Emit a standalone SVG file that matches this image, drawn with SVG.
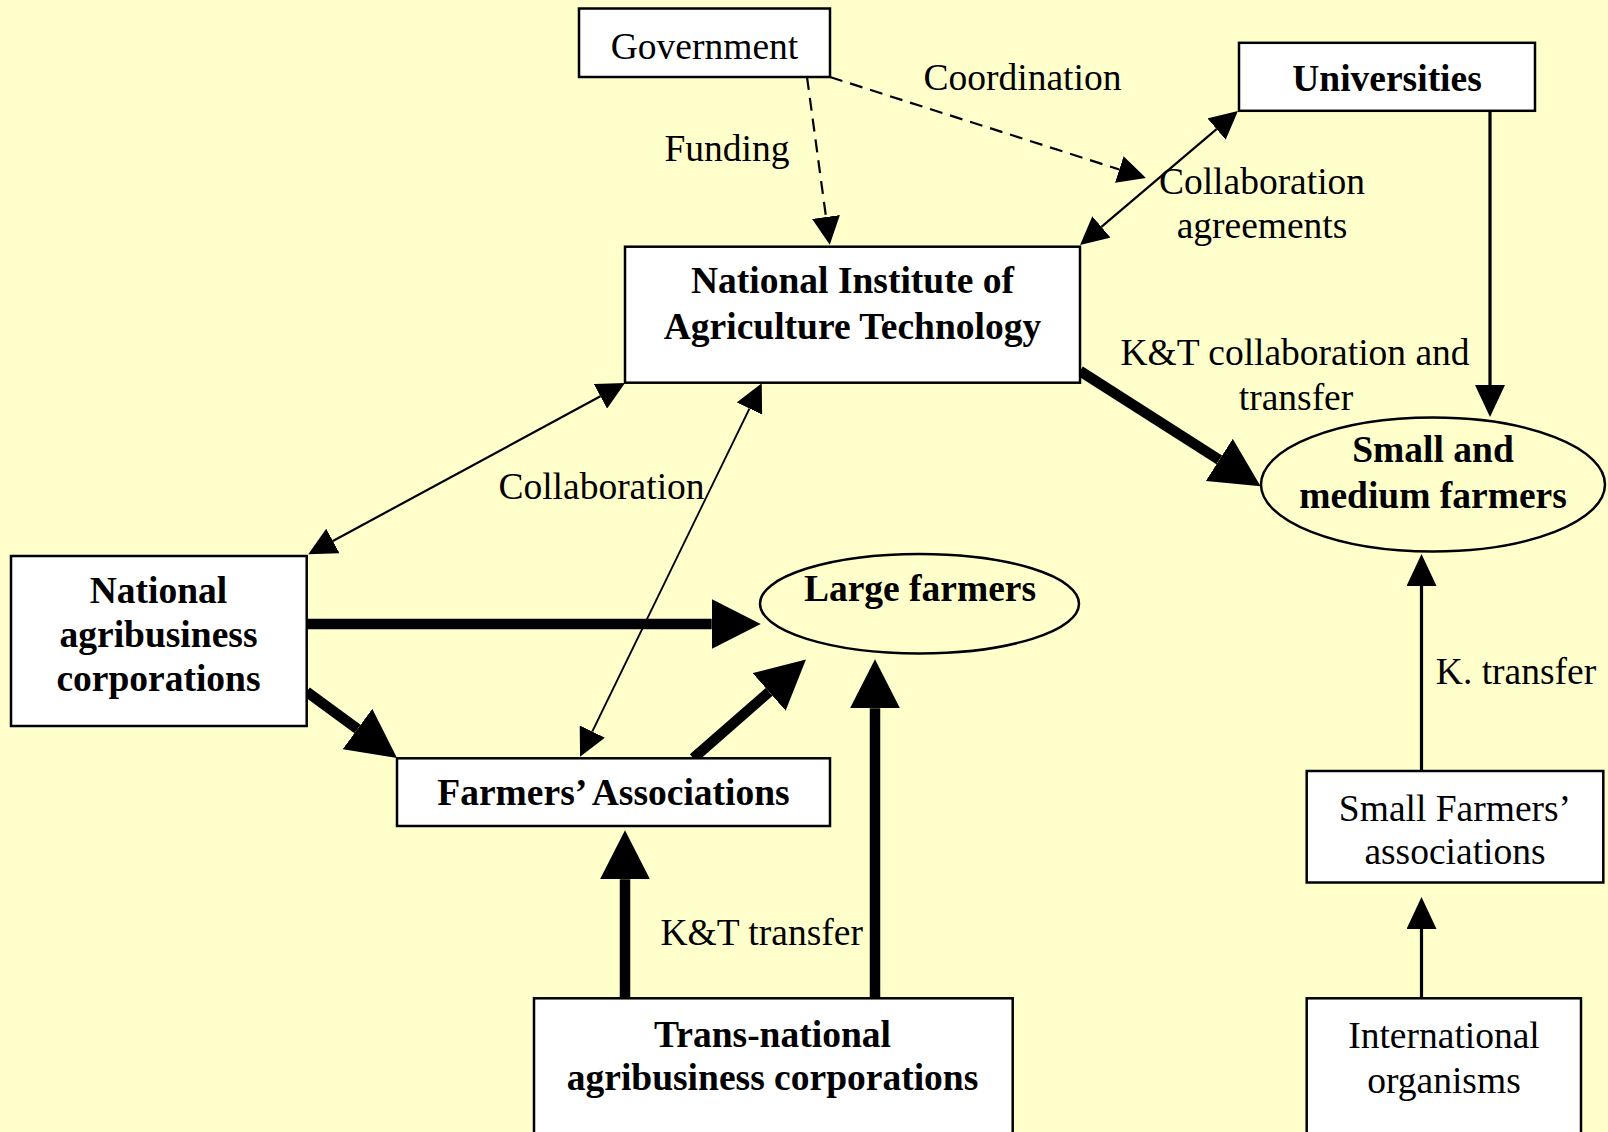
<svg xmlns="http://www.w3.org/2000/svg" width="1608" height="1132" viewBox="0 0 1608 1132">
<style>
.box{fill:#ffffff;stroke:#000;stroke-width:2.5}
.ell{fill:none;stroke:#000;stroke-width:2.5}
text{font-family:"Liberation Serif","Times New Roman",serif;font-size:37.5px;fill:#000;text-anchor:middle}
.b{font-weight:bold}
.thin{stroke:#000;stroke-width:2.2;fill:none}
.dash{stroke:#000;stroke-width:2.2;fill:none;stroke-dasharray:13 8}
.med{stroke:#000;stroke-width:3.2;fill:none}
.thick{stroke:#000;stroke-width:10.5;fill:none}
</style>
<defs>
<marker id="mThin" markerUnits="userSpaceOnUse" viewBox="0 0 28 28" markerWidth="28" markerHeight="28" refX="0" refY="14" orient="auto-start-reverse"><path d="M0,0 L28,14 L0,28 z" fill="#000"/></marker>
<marker id="mMed" markerUnits="userSpaceOnUse" viewBox="0 0 32 30" markerWidth="32" markerHeight="30" refX="0" refY="15" orient="auto-start-reverse"><path d="M0,0 L32,15 L0,30 z" fill="#000"/></marker>
<marker id="mBig" markerUnits="userSpaceOnUse" viewBox="0 0 49 50" markerWidth="49" markerHeight="50" refX="0" refY="25" orient="auto-start-reverse"><path d="M0,0 L49,25 L0,50 z" fill="#000"/></marker>
</defs>
<rect x="0" y="0" width="1608" height="1132" fill="#ffffcc"/>

<g id="connectors">
<line id="e-funding" class="dash" x1="807" y1="77" x2="826" y2="217" marker-end="url(#mThin)"/>
<line id="e-coordination" class="dash" x1="830" y1="77" x2="1119.3" y2="169.5" marker-end="url(#mThin)"/>
<line id="e-univ-niat" class="thin" x1="1216.6" y1="129.1" x2="1101.4" y2="226.9" marker-start="url(#mThin)" marker-end="url(#mThin)"/>
<line id="e-niat-nat" class="thin" x1="600.4" y1="396.3" x2="332.9" y2="541" marker-start="url(#mThin)" marker-end="url(#mThin)"/>
<line id="e-niat-fa" class="thin" style="stroke-width:1.8" x1="749.5" y1="408.5" x2="592.3" y2="731.5" marker-start="url(#mThin)" marker-end="url(#mThin)"/>
<line id="e-niat-smf" class="thick" x1="1080" y1="371" x2="1219.3" y2="459.9" marker-end="url(#mBig)"/>
<line id="e-nat-large" class="thick" x1="307" y1="624" x2="711.7" y2="624" marker-end="url(#mBig)"/>
<line id="e-nat-fa" class="thick" x1="306.7" y1="691.7" x2="357.5" y2="729" marker-end="url(#mBig)"/>
<line id="e-fa-large" class="thick" x1="693.3" y1="758.3" x2="769.1" y2="691.9" marker-end="url(#mBig)"/>
<line id="e-tnc-fa" class="thick" x1="625" y1="998" x2="625" y2="879.3" marker-end="url(#mBig)"/>
<line id="e-tnc-large" class="thick" x1="875" y1="998" x2="875" y2="708.3" marker-end="url(#mBig)"/>
<line id="e-univ-smf" class="med" x1="1490" y1="110.8" x2="1490" y2="385" marker-end="url(#mMed)"/>
<line id="e-sfa-smf" class="med" x1="1421.5" y1="771" x2="1421.5" y2="586" marker-end="url(#mMed)"/>
<line id="e-intl-sfa" class="med" x1="1421.5" y1="998" x2="1421.5" y2="929" marker-end="url(#mMed)"/>
<text x="1022.5" y="90">Coordination</text>
<text x="727" y="161">Funding</text>
<text x="1262" y="193.5">Collaboration</text>
<text x="1262" y="237.5">agreements</text>
<text x="1295" y="365">K&amp;T collaboration and</text>
<text x="1296" y="410">transfer</text>
<text x="601.5" y="498.5">Collaboration</text>
<text x="761.7" y="945">K&amp;T transfer</text>
<text x="1516" y="684">K. transfer</text>
</g>

<g id="government">
<rect class="box" x="579" y="8.5" width="251" height="68.5"/>
<text x="704.5" y="58.5">Government</text>
</g>
<g id="universities">
<rect class="box" x="1239" y="42.8" width="296" height="68"/>
<text class="b" x="1387" y="90.6">Universities</text>
</g>
<g id="niat">
<rect class="box" x="625" y="246.7" width="455" height="136"/>
<text class="b" x="852.5" y="293.3">National Institute of</text>
<text class="b" x="852.5" y="339.3">Agriculture Technology</text>
</g>
<g id="national-agribusiness">
<rect class="box" x="11" y="556" width="295.7" height="170"/>
<text class="b" x="158.5" y="602.5">National</text>
<text class="b" x="158.5" y="646.5">agribusiness</text>
<text class="b" x="158.5" y="691">corporations</text>
</g>
<g id="large-farmers">
<ellipse class="ell" cx="919.5" cy="603.7" rx="159.5" ry="49.7"/>
<text class="b" x="920" y="601">Large farmers</text>
</g>
<g id="farmers-associations">
<rect class="box" x="397" y="758.3" width="433" height="67.7"/>
<text class="b" x="613.5" y="805">Farmers’ Associations</text>
</g>
<g id="small-medium-farmers">
<ellipse class="ell" cx="1433" cy="484.5" rx="172" ry="67"/>
<text class="b" x="1433" y="461.7">Small and</text>
<text class="b" x="1433" y="508">medium farmers</text>
</g>
<g id="small-farmers-associations">
<rect class="box" x="1306.7" y="771" width="296.6" height="111.5"/>
<text x="1455" y="821">Small Farmers’</text>
<text x="1455" y="864">associations</text>
</g>
<g id="trans-national">
<rect class="box" x="534" y="998.3" width="478.7" height="150"/>
<text class="b" x="772.5" y="1046.7">Trans-national</text>
<text class="b" x="772.5" y="1090">agribusiness corporations</text>
</g>
<g id="international-organisms">
<rect class="box" x="1306.7" y="998.3" width="274.3" height="150"/>
<text x="1444" y="1047.5">International</text>
<text x="1444" y="1093">organisms</text>
</g>
</svg>
